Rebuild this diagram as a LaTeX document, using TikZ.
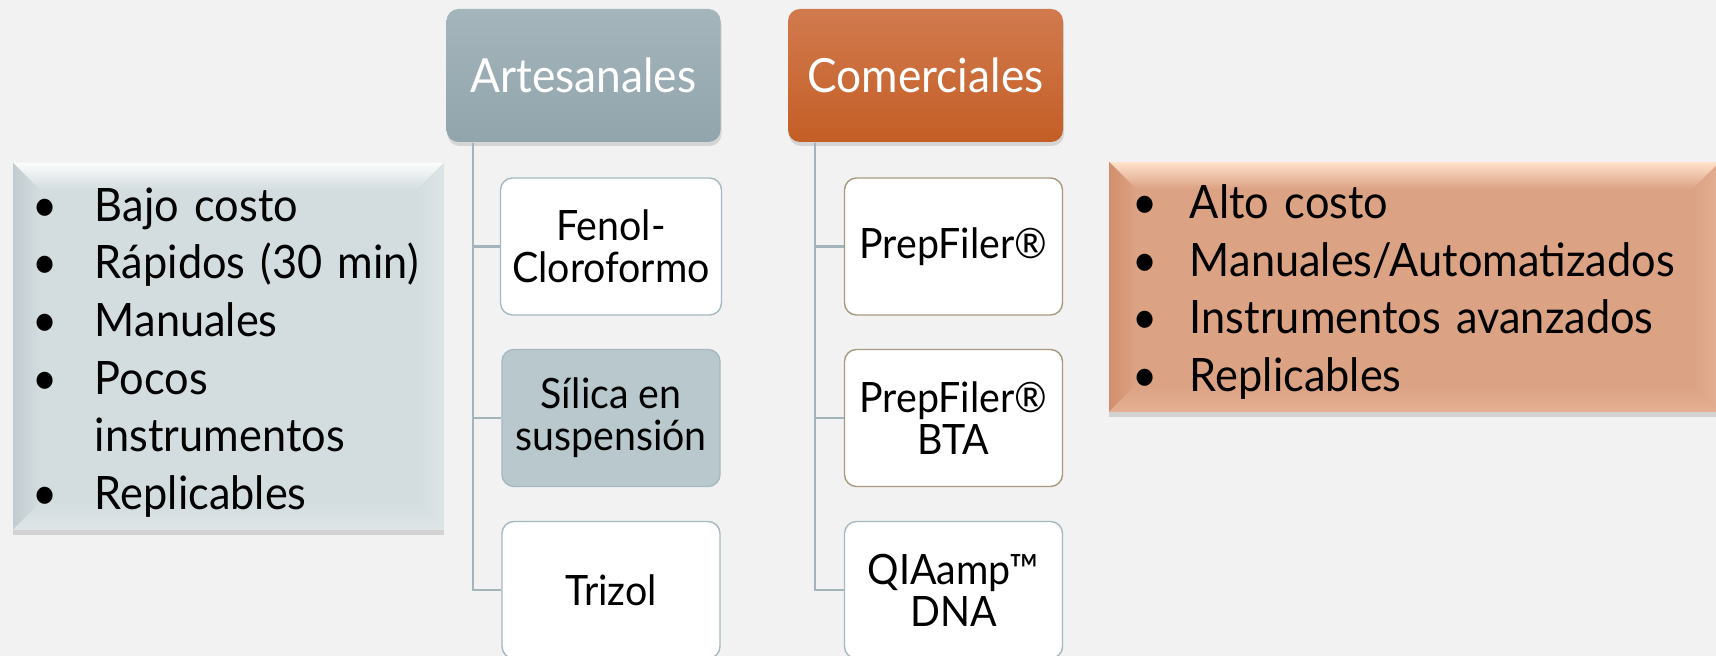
\documentclass[tikz,border=0pt]{standalone}
\usepackage{fontspec}
\setmainfont{Lato}[FakeStretch=0.94]
\usepackage{tikz}
\usetikzlibrary{positioning,shadows}
\definecolor{bggray}{HTML}{F2F2F2}
\definecolor{arttop}{HTML}{A4B5BB}
\definecolor{artbot}{HTML}{92A5AC}
\definecolor{comtop}{HTML}{D17A4E}
\definecolor{combot}{HTML}{C45E26}
\definecolor{linkgray}{HTML}{A3B5BB}
\definecolor{leafblue}{HTML}{A6B9C0}
\definecolor{leaftan}{HTML}{A89A80}
\definecolor{silicafill}{HTML}{B9C8CD}
\definecolor{lowface}{HTML}{D3DCDF}
\definecolor{lowtop}{HTML}{FAFCFC}
\definecolor{lowleft}{HTML}{C2CCD0}
\definecolor{lowright}{HTML}{DEE5E7}
\definecolor{highface}{HTML}{DCA284}
\definecolor{hightop}{HTML}{FFE2CB}
\definecolor{highleft}{HTML}{D08F6D}
\definecolor{highright}{HTML}{E4AF93}

\begin{document}
\begin{tikzpicture}[
  headbox/.style 2 args={rounded corners=0.12cm, top color=#1, bottom color=#2,
    text=white, minimum width=2.74cm, minimum height=1.33cm,
    font=\fontsize{13.4}{16}\selectfont,
    drop shadow={shadow xshift=0.01cm, shadow yshift=-0.04cm, opacity=0.25}},
  leafbox/.style={draw=#1, line width=0.4pt, fill=white, rounded corners=0.12cm,
    minimum width=2.18cm, minimum height=1.37cm, align=center,
    font=\fontsize{11.9}{11.9}\selectfont},
  link/.style={draw=linkgray, line width=0.6pt},
  bevelbox/.style n args={4}{fill=#1, align=left, inner ysep=0pt,
    font=\fontsize{13.1}{16.4}\selectfont,
    drop shadow={shadow xshift=0cm, shadow yshift=-0.05cm, opacity=0.28},
    path picture={
      \path (path picture bounding box.north west) coordinate (bnw)
            (path picture bounding box.north east) coordinate (bne)
            (path picture bounding box.south west) coordinate (bsw)
            (path picture bounding box.south east) coordinate (bse);
      \shade[top color=#2, bottom color=#1] (bnw) -- (bne)
        -- ([shift={(-0.27,-0.27)}]bne) -- ([shift={(0.27,-0.27)}]bnw) -- cycle;
      \shade[left color=#3, right color=#1] (bnw) -- ([shift={(0.27,-0.27)}]bnw)
        -- ([shift={(0.27,0.27)}]bsw) -- (bsw) -- cycle;
      \shade[left color=#1, right color=#4] (bne) -- ([shift={(-0.27,-0.27)}]bne)
        -- ([shift={(-0.27,0.27)}]bse) -- (bse) -- cycle;
      \shade[top color=#1, bottom color=#4] (bsw) -- ([shift={(0.27,0.27)}]bsw)
        -- ([shift={(-0.27,0.27)}]bse) -- (bse) -- cycle;
    }}
]
\path[use as bounding box, fill=bggray] (0,0) rectangle (17.16,-6.56);

% Left summary
\node[bevelbox={lowface}{lowtop}{lowleft}{lowright}, inner xsep=0.2cm,
      text width=3.91cm, minimum height=3.67cm] (bajo) at (2.285,-3.465)
  {\rule{0pt}{12.9pt}\makebox[0.62cm][l]{\textbullet}Bajo costo\\
   \makebox[0.62cm][l]{\textbullet}Rápidos (30~min)\\
   \makebox[0.62cm][l]{\textbullet}Manuales\\
   \makebox[0.62cm][l]{\textbullet}Pocos\\
   \hspace*{0.62cm}instrumentos\\
   \makebox[0.62cm][l]{\textbullet}Replicables};

% Right summary
\node[bevelbox={highface}{hightop}{highleft}{highright}, inner xsep=0.23cm,
      text width=5.65cm, minimum height=2.5cm] (alto) at (14.145,-2.87)
  {\rule{0pt}{12.6pt}\makebox[0.58cm][l]{\textbullet}Alto costo\\
   \makebox[0.58cm][l]{\textbullet}Manuales/Automatizados\\
   \makebox[0.58cm][l]{\textbullet}Instrumentos avanzados\\
   \makebox[0.58cm][l]{\textbullet}Replicables};

% Headers
\node[headbox={arttop}{artbot}] (art) at (5.835,-0.755) {Artesanales};
\node[headbox={comtop}{combot}, minimum width=2.75cm] (com) at (9.255,-0.755) {Comerciales};

% Methods
\node[leafbox=leafblue] (fenol) at (6.11,-2.465) {Fenol-\\Cloroformo};
\node[leafbox=leafblue, fill=silicafill] (silica) at (6.11,-4.18) {Sílica en\\suspensión};
\node[leafbox=leafblue] (trizol) at (6.11,-5.90) {Trizol};
\node[leafbox=leaftan] (prep) at (9.535,-2.465) {PrepFiler®};
\node[leafbox=leaftan] (prepbta) at (9.535,-4.18) {PrepFiler®\\BTA};
\node[leafbox=leafblue] (qiamp) at (9.535,-5.90) {QIAamp™\\DNA};

% Tree lines
\foreach \leaf in {fenol,silica,trizol}
  \draw[link] ([xshift=0.27cm]art.south west) |- (\leaf.west);
\foreach \leaf in {prep,prepbta,qiamp}
  \draw[link] ([xshift=0.28cm]com.south west) |- (\leaf.west);
\end{tikzpicture}
\end{document}
